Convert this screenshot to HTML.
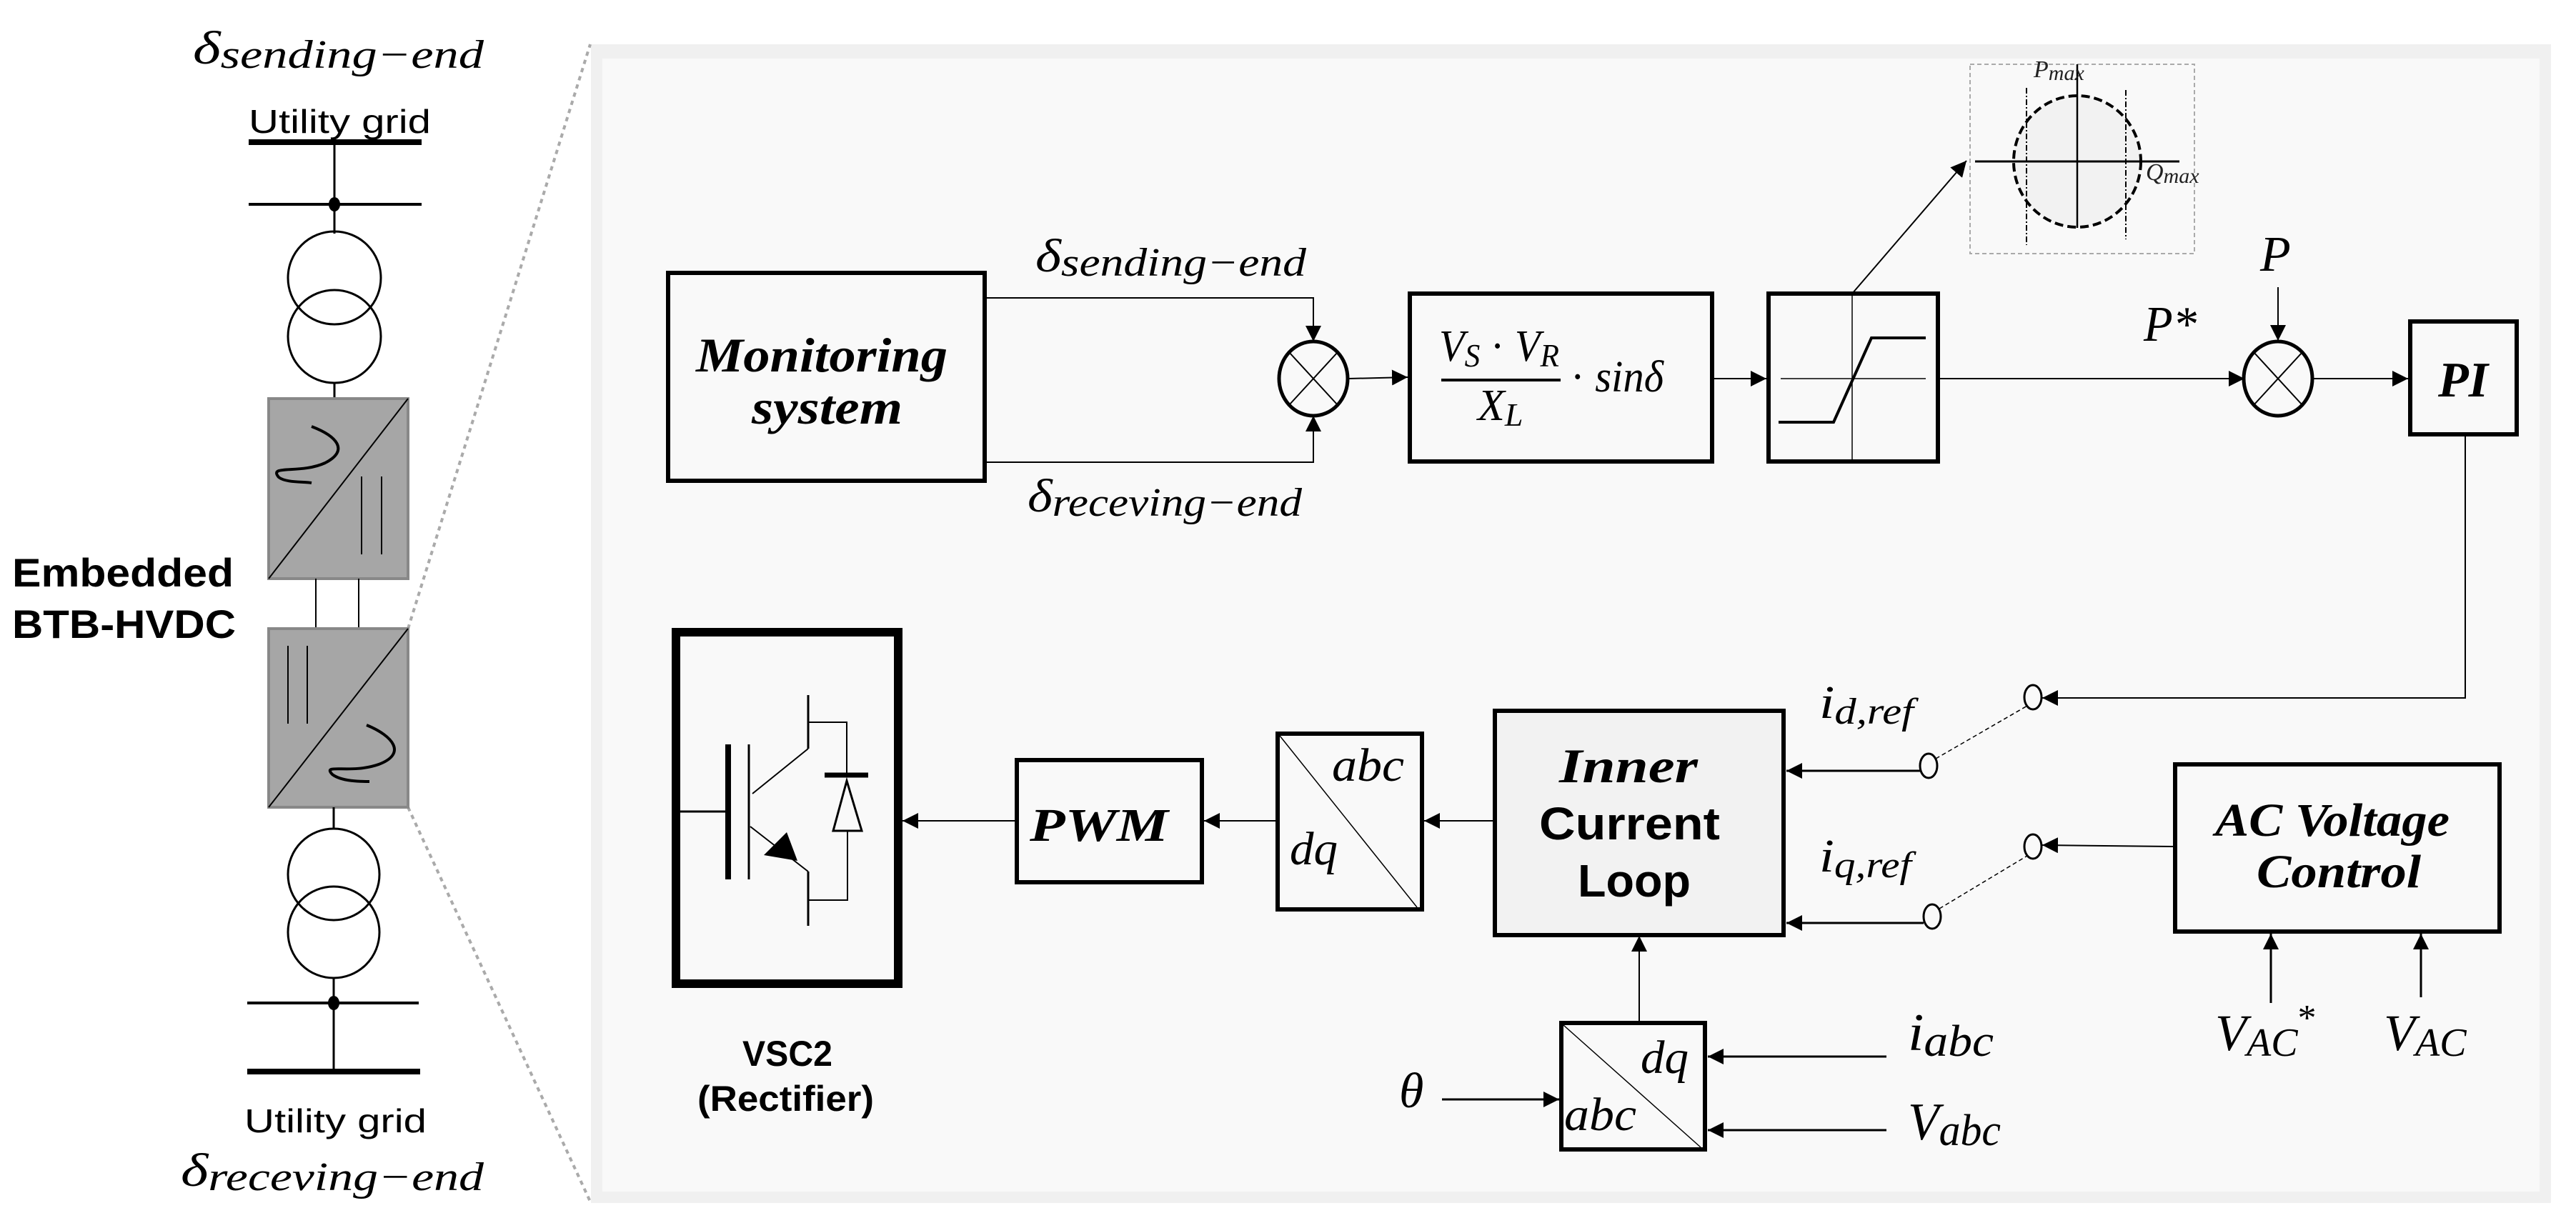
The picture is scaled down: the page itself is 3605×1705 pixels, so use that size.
<!DOCTYPE html>
<html><head><meta charset="utf-8"><style>
html,body{margin:0;padding:0;background:#fff}
svg{display:block}
.m{font-family:"Liberation Serif",serif;font-style:italic}
.b{font-family:"Liberation Serif",serif;font-style:italic;font-weight:bold}
.s{font-family:"Liberation Sans",sans-serif}
</style></head><body>
<svg width="3605" height="1705" viewBox="0 0 3605 1705" xmlns="http://www.w3.org/2000/svg">
<defs>
<marker id="a" viewBox="0 0 10 10" refX="10" refY="5" markerWidth="22" markerHeight="22" markerUnits="userSpaceOnUse" orient="auto"><path d="M0,0L10,5L0,10z" fill="#000"/></marker>
</defs>
<rect width="3605" height="1705" fill="#fff"/>
<!-- panel -->
<rect x="827" y="62" width="2743" height="1622" fill="#f0f0f0"/>
<rect x="843" y="82" width="2711" height="1586" fill="#f9f9f9"/>
<!-- dotted zoom lines -->
<line x1="571" y1="880" x2="826" y2="62" stroke="#aaa" stroke-width="4" stroke-dasharray="6,6"/>
<line x1="571" y1="1130" x2="826" y2="1682" stroke="#aaa" stroke-width="4" stroke-dasharray="6,6"/>

<!-- left single line diagram -->
<text x="270" y="89" class="m" font-size="66" textLength="407" lengthAdjust="spacingAndGlyphs">δ<tspan font-size="56" dy="6">sending−end</tspan></text>
<text x="348" y="186" class="s" font-size="46" textLength="255" lengthAdjust="spacingAndGlyphs">Utility grid</text>
<line x1="348" y1="199" x2="590" y2="199" stroke="#000" stroke-width="8"/>
<line x1="468" y1="199" x2="468" y2="327" stroke="#000" stroke-width="3"/>
<line x1="348" y1="286" x2="590" y2="286" stroke="#000" stroke-width="4"/>
<ellipse cx="468" cy="286" rx="8" ry="10"/>
<circle cx="468" cy="389" r="65" fill="none" stroke="#000" stroke-width="3"/>
<circle cx="468" cy="471" r="65" fill="none" stroke="#000" stroke-width="3"/>
<line x1="468" y1="536" x2="468" y2="557" stroke="#000" stroke-width="3"/>
<rect x="376" y="558" width="195" height="252" fill="#a6a6a6" stroke="#888" stroke-width="4"/>
<line x1="376" y1="810" x2="571" y2="558" stroke="#000" stroke-width="2"/>
<path d="M436,597 C470,610 490,630 455,648 C420,664 375,650 390,668 C400,676 425,674 436,676" fill="none" stroke="#000" stroke-width="4"/>
<line x1="506" y1="667" x2="506" y2="776" stroke="#000" stroke-width="2"/>
<line x1="534" y1="667" x2="534" y2="776" stroke="#000" stroke-width="2"/>
<line x1="442" y1="810" x2="442" y2="880" stroke="#000" stroke-width="2"/>
<line x1="502" y1="810" x2="502" y2="880" stroke="#000" stroke-width="2"/>
<rect x="376" y="880" width="195" height="250" fill="#a6a6a6" stroke="#888" stroke-width="4"/>
<line x1="376" y1="1130" x2="571" y2="880" stroke="#000" stroke-width="2"/>
<line x1="403" y1="904" x2="403" y2="1013" stroke="#000" stroke-width="2"/>
<line x1="430" y1="904" x2="430" y2="1013" stroke="#000" stroke-width="2"/>
<path d="M513,1015 C550,1030 570,1055 530,1070 C490,1084 450,1068 465,1084 C478,1094 505,1094 517,1094" fill="none" stroke="#000" stroke-width="4"/>
<line x1="467" y1="1130" x2="467" y2="1160" stroke="#000" stroke-width="3"/>
<circle cx="467" cy="1224" r="64" fill="none" stroke="#000" stroke-width="3"/>
<circle cx="467" cy="1305" r="64" fill="none" stroke="#000" stroke-width="3"/>
<line x1="467" y1="1369" x2="467" y2="1500" stroke="#000" stroke-width="3"/>
<line x1="346" y1="1404" x2="586" y2="1404" stroke="#000" stroke-width="4"/>
<ellipse cx="467" cy="1404" rx="8" ry="10"/>
<line x1="346" y1="1500" x2="588" y2="1500" stroke="#000" stroke-width="8"/>
<text x="342" y="1585" class="s" font-size="46" textLength="255" lengthAdjust="spacingAndGlyphs">Utility grid</text>
<text x="253" y="1660" class="m" font-size="66" textLength="424" lengthAdjust="spacingAndGlyphs">δ<tspan font-size="56" dy="6">receving−end</tspan></text>
<text x="17" y="821" class="s" font-size="56" font-weight="bold" textLength="310" lengthAdjust="spacingAndGlyphs">Embedded</text>
<text x="17" y="893" class="s" font-size="56" font-weight="bold" textLength="313" lengthAdjust="spacingAndGlyphs">BTB-HVDC</text>

<!-- monitoring -->
<rect x="935" y="382" width="443" height="291" fill="none" stroke="#000" stroke-width="6"/>
<text x="974" y="520" class="b" font-size="68" textLength="352" lengthAdjust="spacingAndGlyphs">Monitoring</text>
<text x="1052" y="593" class="b" font-size="68" textLength="211" lengthAdjust="spacingAndGlyphs">system</text>
<text x="1449" y="380" class="m" font-size="66" textLength="379" lengthAdjust="spacingAndGlyphs">δ<tspan font-size="56" dy="6">sending−end</tspan></text>
<text x="1438" y="716" class="m" font-size="66" textLength="384" lengthAdjust="spacingAndGlyphs">δ<tspan font-size="56" dy="6">receving−end</tspan></text>
<polyline points="1381,417 1838,417 1838,478" fill="none" stroke="#000" stroke-width="2" marker-end="url(#a)"/>
<polyline points="1381,647 1838,647 1838,582" fill="none" stroke="#000" stroke-width="2" marker-end="url(#a)"/>
<ellipse cx="1838" cy="530" rx="48" ry="52" fill="none" stroke="#000" stroke-width="5"/>
<line x1="1804" y1="493" x2="1872" y2="567" stroke="#000" stroke-width="2"/>
<line x1="1872" y1="493" x2="1804" y2="567" stroke="#000" stroke-width="2"/>
<line x1="1887" y1="530" x2="1970" y2="528" stroke="#000" stroke-width="2" marker-end="url(#a)"/>
<!-- formula -->
<rect x="1973" y="411" width="423" height="235" fill="none" stroke="#000" stroke-width="6"/>
<text x="2014" y="505" class="m" font-size="62" textLength="168" lengthAdjust="spacingAndGlyphs">V<tspan font-size="46" dy="8">S</tspan><tspan dy="-8" font-style="normal"> · </tspan>V<tspan font-size="46" dy="8">R</tspan></text>
<line x1="2017" y1="532" x2="2184" y2="532" stroke="#000" stroke-width="4"/>
<text x="2068" y="588" class="m" font-size="62">X<tspan font-size="46" dy="8">L</tspan></text>
<text x="2198" y="548" class="m" font-size="62" textLength="130" lengthAdjust="spacingAndGlyphs"><tspan font-style="normal">·</tspan> sinδ</text>
<line x1="2399" y1="530" x2="2472" y2="530" stroke="#000" stroke-width="2" marker-end="url(#a)"/>
<!-- limiter -->
<rect x="2475" y="411" width="237" height="235" fill="none" stroke="#000" stroke-width="6"/>
<line x1="2592" y1="411" x2="2592" y2="646" stroke="#000" stroke-width="1.5"/>
<line x1="2492" y1="530" x2="2695" y2="530" stroke="#000" stroke-width="1.5"/>
<polyline points="2489,591 2566,591 2619,473 2695,473" fill="none" stroke="#000" stroke-width="4"/>
<line x1="2592" y1="411" x2="2752" y2="225" stroke="#000" stroke-width="2" marker-end="url(#a)"/>
<!-- PQ chart -->
<rect x="2757" y="90" width="314" height="265" fill="none" stroke="#aaa" stroke-width="2" stroke-dasharray="6,4"/>
<ellipse cx="2907" cy="226" rx="89" ry="92" fill="#f2f2f2" stroke="#000" stroke-width="4" stroke-dasharray="12,6"/>
<line x1="2764" y1="226" x2="3050" y2="226" stroke="#000" stroke-width="3"/>
<line x1="2907" y1="90" x2="2907" y2="319" stroke="#000" stroke-width="2.5"/>
<line x1="2836" y1="123" x2="2836" y2="343" stroke="#000" stroke-width="2" stroke-dasharray="8,3,2,3"/>
<line x1="2975" y1="126" x2="2975" y2="335" stroke="#000" stroke-width="2" stroke-dasharray="8,3,2,3"/>
<text x="2846" y="108" class="m" font-size="34" fill="#222">P<tspan font-size="30" dy="4">max</tspan></text>
<text x="3003" y="252" class="m" font-size="34" fill="#222">Q<tspan font-size="30" dy="4">max</tspan></text>
<!-- to sum2 -->
<line x1="2714" y1="530" x2="3141" y2="530" stroke="#000" stroke-width="2" marker-end="url(#a)"/>
<text x="3000" y="477" class="m" font-size="70" textLength="74" lengthAdjust="spacingAndGlyphs">P*</text>
<text x="3163" y="379" class="m" font-size="70">P</text>
<line x1="3188" y1="402" x2="3188" y2="477" stroke="#000" stroke-width="2" marker-end="url(#a)"/>
<ellipse cx="3188" cy="530" rx="48" ry="52" fill="none" stroke="#000" stroke-width="5"/>
<line x1="3154" y1="493" x2="3222" y2="567" stroke="#000" stroke-width="2"/>
<line x1="3222" y1="493" x2="3154" y2="567" stroke="#000" stroke-width="2"/>
<line x1="3237" y1="530" x2="3370" y2="530" stroke="#000" stroke-width="2" marker-end="url(#a)"/>
<rect x="3373" y="450" width="149" height="158" fill="none" stroke="#000" stroke-width="6"/>
<text x="3447" y="555" class="b" font-size="70" text-anchor="middle">PI</text>
<polyline points="3450,611 3450,977 2858,977" fill="none" stroke="#000" stroke-width="2" marker-end="url(#a)"/>

<!-- switches -->
<ellipse cx="2845" cy="976" rx="12" ry="17" fill="none" stroke="#000" stroke-width="3"/>
<ellipse cx="2699" cy="1072" rx="12" ry="17" fill="none" stroke="#000" stroke-width="3"/>
<line x1="2709" y1="1062" x2="2837" y2="988" stroke="#000" stroke-width="1.5" stroke-dasharray="6,4"/>
<line x1="2687" y1="1079" x2="2500" y2="1079" stroke="#000" stroke-width="3" marker-end="url(#a)"/>
<text x="2546" y="1005" class="m" font-size="66" textLength="132" lengthAdjust="spacingAndGlyphs">i<tspan font-size="52" dy="8">d,ref</tspan></text>
<ellipse cx="2845" cy="1185" rx="12" ry="17" fill="none" stroke="#000" stroke-width="3"/>
<ellipse cx="2704" cy="1283" rx="12" ry="17" fill="none" stroke="#000" stroke-width="3"/>
<line x1="2714" y1="1272" x2="2837" y2="1198" stroke="#000" stroke-width="1.5" stroke-dasharray="6,4"/>
<line x1="2692" y1="1292" x2="2500" y2="1292" stroke="#000" stroke-width="3" marker-end="url(#a)"/>
<text x="2546" y="1220" class="m" font-size="66" textLength="129" lengthAdjust="spacingAndGlyphs">i<tspan font-size="52" dy="8">q,ref</tspan></text>
<!-- AC voltage control -->
<rect x="3044" y="1070" width="454" height="234" fill="none" stroke="#000" stroke-width="6"/>
<text x="3100" y="1170" class="b" font-size="66" textLength="328" lengthAdjust="spacingAndGlyphs">AC Voltage</text>
<text x="3158" y="1242" class="b" font-size="66" textLength="230" lengthAdjust="spacingAndGlyphs">Control</text>
<line x1="3041" y1="1185" x2="2858" y2="1183" stroke="#000" stroke-width="2" marker-end="url(#a)"/>
<line x1="3178" y1="1404" x2="3178" y2="1307" stroke="#000" stroke-width="3" marker-end="url(#a)"/>
<line x1="3388" y1="1396" x2="3388" y2="1307" stroke="#000" stroke-width="3" marker-end="url(#a)"/>
<text x="3100" y="1470" class="m" font-size="72">V<tspan font-size="56" dy="8">AC</tspan><tspan dy="-36" font-size="52" font-style="normal">*</tspan></text>
<text x="3336" y="1470" class="m" font-size="72">V<tspan font-size="56" dy="8">AC</tspan></text>

<!-- inner current loop -->
<rect x="2092" y="995" width="404" height="314" fill="#f2f2f2" stroke="#000" stroke-width="6"/>
<text x="2182" y="1095" class="b" font-size="68" textLength="194" lengthAdjust="spacingAndGlyphs">Inner</text>
<text x="2154" y="1175" class="s" font-weight="bold" font-size="64" textLength="253" lengthAdjust="spacingAndGlyphs">Current</text>
<text x="2208" y="1255" class="s" font-weight="bold" font-size="64" textLength="158" lengthAdjust="spacingAndGlyphs">Loop</text>
<line x1="2089" y1="1149" x2="1993" y2="1149" stroke="#000" stroke-width="2" marker-end="url(#a)"/>
<!-- abc/dq 1 -->
<rect x="1788" y="1027" width="202" height="246" fill="none" stroke="#000" stroke-width="6"/>
<line x1="1791" y1="1030" x2="1983" y2="1270" stroke="#000" stroke-width="1.5"/>
<text x="1864" y="1093" class="m" font-size="66" textLength="101" lengthAdjust="spacingAndGlyphs">abc</text>
<text x="1805" y="1210" class="m" font-size="66" textLength="67" lengthAdjust="spacingAndGlyphs">dq</text>
<line x1="1785" y1="1149" x2="1685" y2="1149" stroke="#000" stroke-width="2" marker-end="url(#a)"/>
<!-- PWM -->
<rect x="1423" y="1064" width="259" height="171" fill="none" stroke="#000" stroke-width="6"/>
<text x="1441" y="1177" class="b" font-size="66" textLength="194" lengthAdjust="spacingAndGlyphs">PWM</text>
<line x1="1420" y1="1149" x2="1263" y2="1149" stroke="#000" stroke-width="2" marker-end="url(#a)"/>
<!-- VSC -->
<rect x="946" y="885" width="311" height="492" fill="none" stroke="#000" stroke-width="12"/>
<line x1="952" y1="1136" x2="1016" y2="1136" stroke="#000" stroke-width="3"/>
<line x1="1019" y1="1042" x2="1019" y2="1231" stroke="#000" stroke-width="8"/>
<line x1="1048" y1="1042" x2="1048" y2="1231" stroke="#000" stroke-width="3"/>
<line x1="1053" y1="1111" x2="1131" y2="1048" stroke="#000" stroke-width="2"/>
<line x1="1131" y1="973" x2="1131" y2="1048" stroke="#000" stroke-width="3"/>
<polyline points="1131,1011 1185,1011 1185,1083" fill="none" stroke="#000" stroke-width="2"/>
<line x1="1154" y1="1085" x2="1215" y2="1085" stroke="#000" stroke-width="7"/>
<polygon points="1185,1093 1166,1163 1206,1163" fill="none" stroke="#000" stroke-width="3"/>
<polyline points="1186,1163 1186,1260 1131,1260" fill="none" stroke="#000" stroke-width="2"/>
<line x1="1050" y1="1157" x2="1131" y2="1220" stroke="#000" stroke-width="2"/>
<polygon points="1069,1197 1101,1165 1116,1205" fill="#000"/>
<line x1="1131" y1="1220" x2="1131" y2="1296" stroke="#000" stroke-width="3"/>
<text x="1039" y="1492" class="s" font-size="50" font-weight="bold" textLength="126" lengthAdjust="spacingAndGlyphs">VSC2</text>
<text x="976" y="1555" class="s" font-size="50" font-weight="bold" textLength="247" lengthAdjust="spacingAndGlyphs">(Rectifier)</text>
<!-- abc/dq 2 -->
<rect x="2185" y="1432" width="201" height="177" fill="none" stroke="#000" stroke-width="6"/>
<line x1="2188" y1="1435" x2="2380" y2="1606" stroke="#000" stroke-width="1.5"/>
<text x="2296" y="1502" class="m" font-size="66" textLength="67" lengthAdjust="spacingAndGlyphs">dq</text>
<text x="2189" y="1582" class="m" font-size="66" textLength="101" lengthAdjust="spacingAndGlyphs">abc</text>
<line x1="2294" y1="1429" x2="2294" y2="1310" stroke="#000" stroke-width="2" marker-end="url(#a)"/>
<text x="1958" y="1550" class="m" font-size="70">θ</text>
<line x1="2018" y1="1539" x2="2182" y2="1539" stroke="#000" stroke-width="3" marker-end="url(#a)"/>
<text x="2670" y="1470" class="m" font-size="74" textLength="120" lengthAdjust="spacingAndGlyphs">i<tspan font-size="62" dy="8">abc</tspan></text>
<line x1="2640" y1="1479" x2="2390" y2="1479" stroke="#000" stroke-width="3" marker-end="url(#a)"/>
<text x="2670" y="1595" class="m" font-size="74" textLength="130" lengthAdjust="spacingAndGlyphs">V<tspan font-size="62" dy="8">abc</tspan></text>
<line x1="2640" y1="1582" x2="2390" y2="1582" stroke="#000" stroke-width="3" marker-end="url(#a)"/>
</svg>
</body></html>
